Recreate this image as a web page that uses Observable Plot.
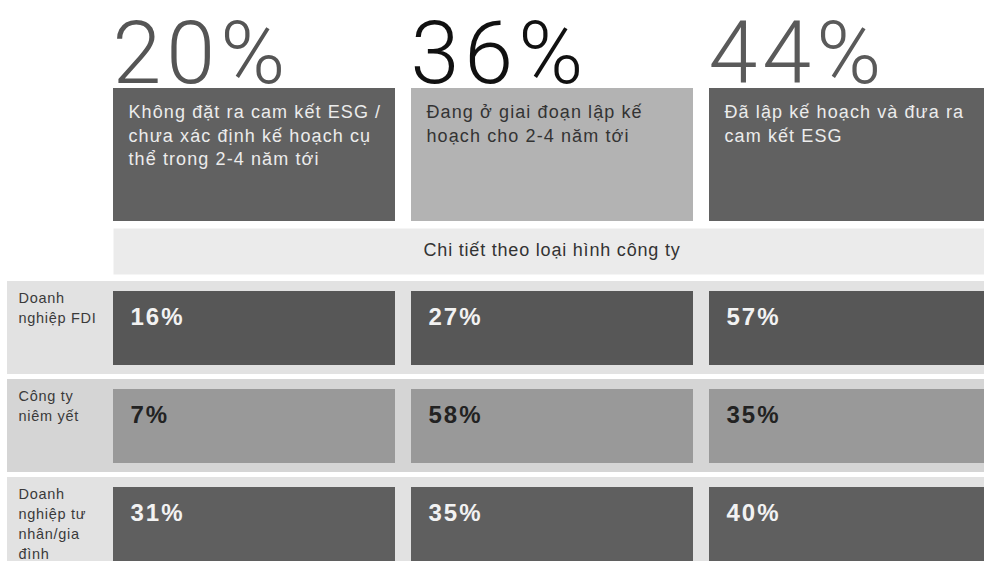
<!DOCTYPE html>
<html>
<head>
<meta charset="utf-8">
<script src="https://cdn.jsdelivr.net/npm/d3@7"></script>
<script src="https://cdn.jsdelivr.net/npm/@observablehq/plot@0.6"></script>
<style>
  html, body { margin: 0; padding: 0; background: #ffffff; }
  #chart { width: 984px; height: 561px; overflow: hidden; }
  #chart svg { display: block; }
</style>
</head>
<body>
<div id="chart"></div>
<script>
// ---- data ----
const stages = [
  "Không đặt ra cam kết ESG /\nchưa xác định kế hoạch cụ\nthể trong 2-4 năm tới",
  "Đang ở giai đoạn lập kế\nhoạch cho 2-4 năm tới",
  "Đã lập kế hoạch và đưa ra\ncam kết ESG"
];
const overallShare = [20, 36, 44];
const detailLabel = "Chi tiết theo loại hình công ty";
const companyTypes = [
  "Doanh\nnghiệp FDI",
  "Công ty\nniêm yết",
  "Doanh\nnghiệp tư\nnhân/gia\nđình"
];
const fdiShare = [16, 27, 57];
const listedShare = [7, 58, 35];
const privateShare = [31, 35, 40];

// ---- styling ----
const stageBoxFill = ["#616161", "#b3b3b3", "#616161"];
const stageTextFill = ["#ececec", "#333333", "#ececec"];
const bigNumberFill = ["#555555", "#111111", "#5a5a5a"];
const rowBandFill = ["#e2e2e2", "#d5d5d5", "#e2e2e2"];
const rowBarFill = ["#575757", "#999999", "#5f5f5f"];
const rowTextFill = ["#f2f2f2", "#222222", "#f2f2f2"];
// letter spacing (px) for the text marks of each block, in mark order
const topSpacing = [5, 1.1];
const detailSpacing = [0.8];
const rowsSpacing = [2, 0.7];

const W = 984;
const colStep = 298, colBand = 282;
const xScale = {
  type: "band",
  domain: stages,
  range: [113, 113 + 3 * colStep - (colStep - colBand)],
  paddingInner: (colStep - colBand) / colStep,
  paddingOuter: 0,
  axis: null
};
const sans = "'Liberation Sans', Arial, Helvetica, sans-serif";
function spaceText(svg, spacing) {
  d3.select(svg).selectAll("g[aria-label='text']").each(function (_, k) {
    if (spacing[k] != null) this.style.letterSpacing = spacing[k] + "px";
  });
  return svg;
}

const stageRows = stages.map((s, i) => ({stage: s, share: overallShare[i], i}));

// ---- top block: big numbers + stage boxes ----
const topBlock = spaceText(Plot.plot({
  width: W, height: 222,
  marginTop: 88, marginBottom: 1, marginLeft: 0, marginRight: 0,
  style: {fontFamily: sans, background: "transparent", overflow: "visible"},
  x: xScale,
  marks: [
    Plot.cell(stageRows, {x: "stage", fill: d => stageBoxFill[d.i]}),
    Plot.text(stageRows, {
      x: "stage", text: d => d.share + "%",
      frameAnchor: "top", lineAnchor: "bottom", dy: -6,
      textAnchor: "start", dx: -colBand / 2 - 1,
      fontSize: 88, fontWeight: 300,
      fontFamily: "Roboto, 'Liberation Sans', sans-serif",
      fill: d => bigNumberFill[d.i]
    }),
    Plot.text(stageRows, {
      x: "stage", text: "stage",
      frameAnchor: "top", lineAnchor: "top", lineHeight: 1.3, dy: 13,
      textAnchor: "start", dx: -colBand / 2 + 15,
      fontSize: 18,
      fill: d => stageTextFill[d.i]
    })
  ]
}), topSpacing);

// ---- detail band ----
const detailBlock = spaceText(Plot.plot({
  width: W, height: 54,
  marginTop: 6, marginBottom: 2, marginLeft: 113, marginRight: 0,
  style: {fontFamily: sans, background: "transparent", overflow: "visible"},
  marks: [
    Plot.frame({fill: "#ebebeb", stroke: null}),
    Plot.text([detailLabel], {
      text: d => d, frameAnchor: "middle", dx: 3, dy: -1,
      fontSize: 18, fill: "#333333"
    })
  ]
}), detailSpacing);

// ---- rows by company type ----
const rowSeries = [fdiShare, listedShare, privateShare];
const cells = [];
companyTypes.forEach((t, r) => stages.forEach((s, c) =>
  cells.push({type: t, stage: s, value: rowSeries[r][c], r})));
const typeRows = companyTypes.map((t, r) => ({type: t, r}));

const rowStep = 98.5, rowGap = 5;
const rowsBlock = spaceText(Plot.plot({
  width: W, height: 285,
  marginTop: 0, marginBottom: 0, marginLeft: 7, marginRight: 0,
  style: {fontFamily: sans, background: "transparent", overflow: "visible"},
  x: xScale,
  y: {
    type: "band", domain: companyTypes,
    range: [4, 4 + 3 * rowStep - rowGap],
    paddingInner: rowGap / rowStep, paddingOuter: 0, axis: null
  },
  marks: [
    Plot.cell(typeRows, {y: "type", fill: d => rowBandFill[d.r]}),
    Plot.cell(cells, {x: "stage", y: "type", fill: d => rowBarFill[d.r], insetTop: 10, insetBottom: 9}),
    Plot.text(cells, {
      x: "stage", y: "type", text: d => d.value + "%",
      textAnchor: "start", dx: -colBand / 2 + 17,
      lineAnchor: "bottom", dy: -3,
      fontSize: 24, fontWeight: "bold",
      fill: d => rowTextFill[d.r]
    }),
    Plot.text(typeRows, {
      y: "type", text: "type",
      frameAnchor: "left", dx: 11, textAnchor: "start",
      lineAnchor: "top", lineHeight: 1.38, dy: -39,
      fontSize: 14.5, fill: "#3a3a3a"
    })
  ]
}), rowsSpacing);

document.getElementById("chart").append(topBlock, detailBlock, rowsBlock);
</script>
</body>
</html>
